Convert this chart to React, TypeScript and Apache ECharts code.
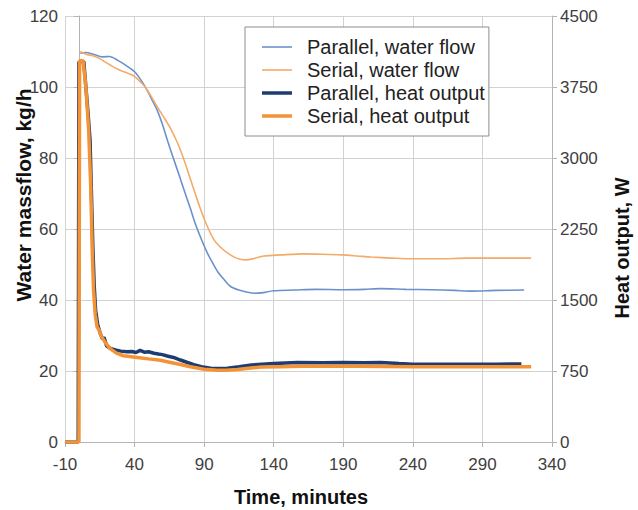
import React, { useEffect, useRef } from "react";
import * as echarts from "echarts";

const xTicks = [-10, 40, 90, 140, 190, 240, 290, 340];
const leftTicks = [0, 20, 40, 60, 80, 100, 120];
const rightTicks = [0, 750, 1500, 2250, 3000, 3750, 4500];

const seriesNames = [
  "Parallel, water flow",
  "Serial, water flow",
  "Parallel, heat output",
  "Serial, heat output",
];

// time (min), water massflow (kg/h)
const parallelWater: [number, number][] = [
  [1, 109.5], [5, 109.7], [10, 109.3], [17, 108.5], [22, 108.6], [28, 107.5], [34, 106],
  [40, 104.3], [44, 102.3], [48, 99.8], [52, 96.8], [56, 93.7], [60, 89.5], [64, 84.5],
  [68, 79.8], [72, 75.2], [76, 70.5], [80, 65.9], [84, 61.1], [88, 57.1], [92, 53.5],
  [96, 50.5], [100, 47.8], [104, 45.9], [109, 43.8], [115, 42.8], [121, 42.2], [126, 41.9],
  [131, 42], [140, 42.6], [155, 42.8], [170, 43], [190, 42.9], [205, 43], [217, 43.2],
  [235, 43], [253, 42.9], [270, 42.7], [282, 42.5], [300, 42.7], [320, 42.8],
];

const serialWater: [number, number][] = [
  [1, 110], [5, 109.2], [10, 108.8], [15, 108], [19, 107], [22.5, 106.2], [28, 105],
  [33, 104.2], [37, 103.6], [40, 103], [44, 101.5], [48, 99.8], [52, 97.3], [56, 94.6],
  [61, 91.5], [66, 88.2], [70, 85], [73, 82.2], [77, 77.8], [80, 74.2], [84, 69.5],
  [87.5, 65.5], [92, 61], [97, 57], [102, 54.8], [107, 53.2], [112, 52], [116, 51.5],
  [120, 51.3], [125, 51.6], [133, 52.4], [145, 52.7], [162, 53], [175, 52.9], [189, 52.7],
  [200, 52.4], [210, 52.1], [225, 51.8], [240, 51.6], [260, 51.6], [278, 51.8], [300, 51.8],
  [325, 51.8],
];

// time (min), heat output (W)
const parallelHeat: [number, number][] = [
  [-10, 0], [-0.5, 0], [0, 4013], [3.5, 4020], [5, 3750], [6.5, 3488], [8, 3188], [9, 2625],
  [10, 2063], [11, 1650], [12, 1388], [13.5, 1238], [15.3, 1148], [17, 1088], [18, 1106],
  [20, 1013], [23, 986], [27, 971], [30, 960], [34.5, 953], [38, 956], [41, 945], [44, 968],
  [47, 949], [50, 953], [54, 938], [57, 930], [60, 923], [63.4, 908], [68, 893], [73, 866],
  [78, 840], [82.6, 818], [88, 795], [94.7, 780], [100, 776], [106.8, 780], [115, 795],
  [124, 814], [140, 829], [157, 840], [175, 836], [190, 840], [205, 836], [217, 840],
  [230, 829], [240, 821], [260, 821], [280, 821], [300, 821], [318, 825],
];

const serialHeat: [number, number][] = [
  [-10, 0], [0, 0], [0.5, 4031], [3, 4024], [5, 3750], [7, 3300], [8.5, 2700], [9.5, 2063],
  [10.5, 1613], [11.7, 1350], [13, 1219], [14.5, 1181], [16.5, 1106], [19, 1050],
  [22.5, 986], [27, 938], [32, 911], [42, 893], [50, 878], [58.6, 863], [66, 840],
  [73, 818], [80, 795], [90, 769], [99.5, 758], [106, 758], [114, 765], [122, 780],
  [131, 791], [145, 795], [160, 799], [200, 799], [240, 795], [280, 795], [300, 795],
  [325, 795],
];

const FONT = "'Liberation Sans', Arial, sans-serif";
const THIN_ICON = "path://M0,0L30,0L30,1.6L0,1.6Z";
const THICK_ICON = "path://M0,0L30,0L30,3.5L0,3.5Z";

export default function App() {
  const ref = useRef<HTMLDivElement>(null);
  useEffect(() => {
    if (!ref.current) return;
    const chart = echarts.init(ref.current, null, { renderer: "svg" });
    const axisLineColor = "#b4b4b4";
    const gridColor = "#d2d2d2";
    const labelColor = "#404040";
    chart.setOption({
      animation: false,
      backgroundColor: "#ffffff",
      textStyle: { fontFamily: FONT },
      grid: { left: 65, right: 86, top: 16, bottom: 68 },
      xAxis: {
        type: "value",
        min: xTicks[0],
        max: xTicks[xTicks.length - 1],
        interval: 50,
        axisLine: { show: true, lineStyle: { color: axisLineColor, width: 1 } },
        axisTick: { show: true, length: 5, lineStyle: { color: axisLineColor } },
        axisLabel: { color: labelColor, fontSize: 17, margin: 14, fontFamily: FONT },
        splitLine: { show: true, lineStyle: { color: gridColor, width: 1 } },
      },
      yAxis: [
        {
          type: "value",
          position: "left",
          min: leftTicks[0],
          max: leftTicks[leftTicks.length - 1],
          interval: 20,
          axisLine: { show: true, lineStyle: { color: axisLineColor, width: 1 } },
          axisTick: { show: true, length: 5, lineStyle: { color: axisLineColor } },
          axisLabel: { color: labelColor, fontSize: 17, margin: 7, fontFamily: FONT },
          splitLine: { show: true, lineStyle: { color: gridColor, width: 1 } },
        },
        {
          type: "value",
          position: "right",
          min: rightTicks[0],
          max: rightTicks[rightTicks.length - 1],
          interval: 750,
          axisLine: { show: true, lineStyle: { color: axisLineColor, width: 1 } },
          axisTick: { show: true, length: 5, lineStyle: { color: axisLineColor } },
          axisLabel: {
            color: labelColor,
            fontSize: 17,
            margin: 8,
            fontFamily: FONT,
            formatter: (v: number) => String(v),
          },
          splitLine: { show: false },
        },
      ],
      legend: {
        orient: "vertical",
        left: 245,
        top: 27,
        padding: [10, 4, 10, 17],
        itemGap: 3,
        itemWidth: 30,
        itemHeight: 14,
        backgroundColor: "#ffffff",
        borderColor: "#8c8c8c",
        borderWidth: 1,
        borderRadius: 0,
        textStyle: { fontSize: 20, color: "#222222", fontFamily: FONT, padding: [0, 0, 0, 10] },
        data: [
          { name: seriesNames[0], icon: THIN_ICON },
          { name: seriesNames[1], icon: THIN_ICON },
          { name: seriesNames[2], icon: THICK_ICON },
          { name: seriesNames[3], icon: THICK_ICON },
        ],
      },
      graphic: [
        {
          type: "text",
          x: 23,
          y: 195,
          rotation: Math.PI / 2,
          style: {
            text: "Water massflow, kg/h",
            fontSize: 21,
            fontWeight: "bold",
            fontFamily: FONT,
            fill: "#111111",
            textAlign: "center",
            textVerticalAlign: "middle",
          },
        },
        {
          type: "text",
          x: 622,
          y: 248,
          rotation: Math.PI / 2,
          style: {
            text: "Heat output, W",
            fontSize: 20,
            fontWeight: "bold",
            fontFamily: FONT,
            fill: "#111111",
            textAlign: "center",
            textVerticalAlign: "middle",
          },
        },
        {
          type: "text",
          x: 301,
          y: 497,
          style: {
            text: "Time, minutes",
            fontSize: 20,
            fontWeight: "bold",
            fontFamily: FONT,
            fill: "#111111",
            textAlign: "center",
            textVerticalAlign: "middle",
          },
        },
      ],
      series: [
        {
          name: seriesNames[0],
          type: "line",
          yAxisIndex: 0,
          data: parallelWater,
          symbol: "none",
          smooth: 0.3,
          lineStyle: { color: "#6b91cd", width: 1.6 },
          itemStyle: { color: "#6b91cd" },
        },
        {
          name: seriesNames[1],
          type: "line",
          yAxisIndex: 0,
          data: serialWater,
          symbol: "none",
          smooth: 0.3,
          lineStyle: { color: "#f2ab68", width: 1.6 },
          itemStyle: { color: "#f2ab68" },
        },
        {
          name: seriesNames[2],
          type: "line",
          yAxisIndex: 1,
          data: parallelHeat,
          symbol: "none",
          lineStyle: { color: "#1f3c70", width: 3.5 },
          itemStyle: { color: "#1f3c70" },
        },
        {
          name: seriesNames[3],
          type: "line",
          yAxisIndex: 1,
          data: serialHeat,
          symbol: "none",
          lineStyle: { color: "#f39336", width: 3.5 },
          itemStyle: { color: "#f39336" },
        },
      ],
    });
    return () => chart.dispose();
  }, []);
  return (
    <div
      ref={ref}
      style={{ position: "fixed", left: 0, top: 0, width: 638, height: 510, background: "#fff" }}
    />
  );
}
